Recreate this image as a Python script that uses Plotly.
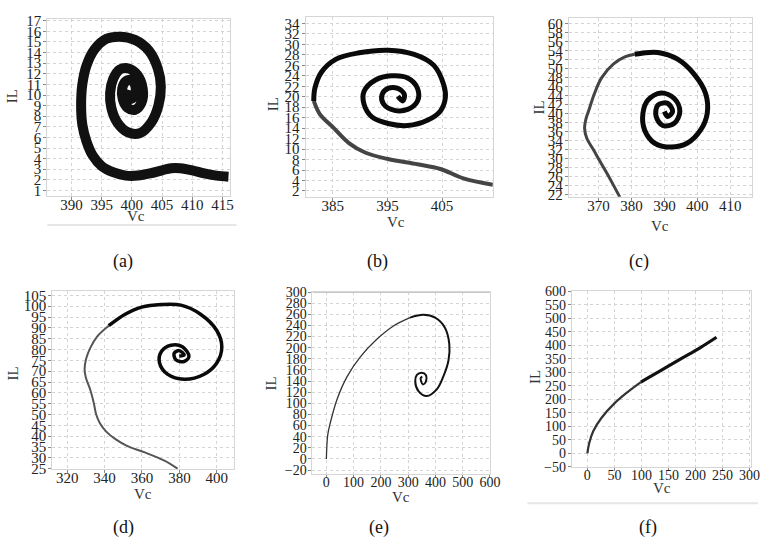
import plotly.graph_objects as go

W, H = 769, 552

# ---------------- data ----------------
# (a)
a_vc = [416.0, 414.0, 412.0, 410.0, 408.0, 406.5, 405.0, 403.0, 401.0, 399.0, 397.0, 395.0,
        393.5, 392.5, 391.8, 391.6, 391.8, 392.5, 393.8, 395.8, 398.0, 400.5, 402.8, 404.3,
        404.8, 404.4, 403.2, 401.3, 399.3, 397.6, 396.6, 396.4, 396.9, 398.0, 399.5, 400.9,
        401.8, 401.6, 400.5, 399.3, 398.5, 398.4, 399.0, 400.0, 400.6, 400.5, 399.8, 399.3, 399.4]
a_il = [2.3, 2.4, 2.6, 2.9, 3.1, 3.1, 2.9, 2.6, 2.4, 2.4, 2.7, 3.3,
        4.3, 5.6, 7.2, 9.0, 11.0, 12.8, 14.3, 15.3, 15.5, 15.2, 14.2, 12.5,
        10.8, 9.0, 7.4, 6.4, 6.5, 7.4, 8.8, 10.2, 11.5, 12.4, 12.5, 11.9,
        10.6, 9.3, 8.6, 8.8, 9.6, 10.6, 11.3, 11.4, 10.8, 10.0, 9.6, 10.0, 10.5]

# (b)
b_tail_vc = [414.3, 408.9, 404.7, 400.5, 395.1, 391.0, 388.0, 385.0, 382.6, 381.5]
b_tail_il = [3.2, 4.4, 6.2, 7.1, 8.1, 9.3, 11.1, 14.2, 16.7, 19.2]
b_vc = [381.5, 381.7, 382.9, 385.6, 389.8, 395.1, 399.9, 403.5, 405.3, 405.6, 404.7, 402.3,
        398.7, 395.1, 392.2, 390.7, 390.7, 392.8, 395.7, 398.7, 400.5, 400.5, 398.7, 396.3,
        394.3, 394.0, 395.1, 396.9, 398.1, 397.8, 396.9]
b_il = [19.2, 21.6, 24.7, 27.2, 28.4, 28.9, 28.1, 26.0, 22.3, 19.8, 17.3, 15.5,
        14.5, 14.9, 16.1, 18.6, 21.0, 23.2, 24.0, 23.6, 21.6, 19.2, 17.6, 17.4,
        18.6, 20.4, 21.6, 21.6, 20.4, 19.2, 20.1]

# (c)
c_tail_vc = [376.5, 374.3, 372.4, 370.2, 368.5, 366.5, 365.8, 366.2, 367.2, 368.8, 371.0, 374.5,
             378.0, 381.0]
c_tail_il = [21.5, 24.5, 27.0, 29.8, 32.0, 34.5, 36.8, 38.8, 41.0, 44.5, 48.0, 51.0,
             52.6, 53.2]
c_vc = [381.0, 388.0, 394.0, 399.0, 402.5, 403.0, 401.0, 397.0, 392.0, 387.0, 384.0, 383.5,
        385.0, 389.0, 393.0, 394.7, 393.0, 389.5, 387.5, 388.0, 391.0, 392.5, 391.0, 390.0]
c_il = [53.2, 53.6, 52.1, 48.8, 44.5, 40.1, 36.4, 33.5, 32.6, 33.5, 36.4, 40.1,
        43.0, 44.6, 43.4, 40.5, 37.9, 37.4, 39.4, 41.9, 42.3, 40.5, 39.4, 40.5]

# (d)
d_tail_vc = [379.0, 372.0, 361.5, 352.0, 346.0, 341.0, 337.5, 335.5, 334.3, 332.5, 330.0,
             329.3, 330.2, 332.5, 336.0, 342.2]
d_tail_il = [25.0, 28.7, 32.5, 35.5, 38.5, 42.0, 46.0, 50.0, 55.0, 61.0, 67.0,
             71.0, 76.0, 81.0, 86.0, 91.0]
d_vc = [342.2, 351.0, 359.8, 370.3, 380.8, 391.3, 400.0, 402.7, 400.0, 393.0, 382.5, 373.8,
        369.4, 370.3, 375.5, 381.6, 385.1, 382.5, 378.1, 377.2, 379.9, 382.5, 379.9]
d_il = [91.0, 96.3, 99.6, 100.8, 100.5, 96.3, 88.8, 81.3, 73.8, 68.5, 66.3, 68.5,
        73.8, 79.0, 82.0, 81.3, 76.8, 74.5, 75.3, 78.3, 79.5, 77.5, 77.0]

# (e)
e_tail_vc = [0, 5, 15, 39, 76, 124, 185, 246, 307]
e_tail_il = [0, 43, 66, 107, 148, 183, 215, 239, 254]
e_vc = [307, 356, 399, 435, 451, 448, 429, 405, 368,
        338, 326, 332, 350, 365, 365, 354, 346, 352]
e_il = [254, 259, 254, 236, 207, 177, 148, 125, 113,
        122, 139, 151, 155, 151, 139, 134, 145, 148]

# (f)
f_tail_vc = [0, 3, 11, 26, 50.5, 75, 99]
f_tail_il = [0, 35, 83, 131, 186, 228, 264]
f_vc = [99, 135.6, 172, 208.5, 239]
f_il = [264, 306, 349, 391, 430]

# tick values
a_xt = [390, 395, 400, 405, 410, 415]
a_yt = list(range(1, 18))
b_xt = [385, 395, 405]
b_yt = list(range(2, 35, 2))
c_xt = [370, 380, 390, 400, 410]
c_yt = list(range(22, 61, 2))
d_xt = [320, 340, 360, 380, 400]
d_yt = list(range(25, 106, 5))
e_xt = [0, 100, 200, 300, 400, 500, 600]
e_yt = list(range(-20, 301, 20))
f_xt = [0, 50, 100, 150, 200, 250, 300]
f_yt = list(range(-50, 601, 50))

captions = ["(a)", "(b)", "(c)", "(d)", "(e)", "(f)"]

# ---------------- layout geometry (pixels) ----------------
panels = [
    dict(px=(48, 233), py=(12, 194), xr=[386, 416.2], yr=[0.5, 17.2], xt=a_xt, yt=a_yt,
         cap=(125, 262), vc=(138, 215), il=(13, 92), fs=15),
    dict(px=(310, 500), py=(10, 195), xr=[380, 414.3], yr=[0.9, 35.3], xt=b_xt, yt=b_yt,
         cap=(383, 262), vc=(402, 221), il=(277, 100), fs=15),
    dict(px=(577, 763), py=(11, 195), xr=[361, 416.6], yr=[21.6, 61.3], xt=c_xt, yt=c_yt,
         cap=(648, 262), vc=(670, 225), il=(547, 103), fs=15),
    dict(px=(53, 237), py=(292, 475), xr=[312, 409], yr=[24.8, 107], xt=d_xt, yt=d_yt,
         cap=(125, 535), vc=(145, 501), il=(13, 377), fs=15),
    dict(px=(317, 497), py=(293, 480), xr=[-51, 600], yr=[-27, 300], xt=e_xt, yt=e_yt,
         cap=(385, 535), vc=(407, 504), il=(275, 387), fs=14),
    dict(px=(580, 762), py=(292, 473), xr=[-29, 303], yr=[-51, 601], xt=f_xt, yt=f_yt,
         cap=(657, 535), vc=(672, 494), il=(542, 380), fs=14),
]

FONT = "Liberation Serif, Times New Roman, serif"
fig = go.Figure()

series = [
    [(a_vc, a_il, "#111111", 10)],
    [(b_tail_vc, b_tail_il, "#444444", 4), (b_vc, b_il, "#0a0a0a", 5)],
    [(c_tail_vc, c_tail_il, "#444444", 3), (c_vc, c_il, "#0a0a0a", 5)],
    [(d_tail_vc, d_tail_il, "#555555", 2), (d_vc, d_il, "#0a0a0a", 3.5)],
    [(e_tail_vc, e_tail_il, "#333333", 1.3), (e_vc, e_il, "#111111", 2)],
    [(f_tail_vc, f_tail_il, "#333333", 2.2), (f_vc, f_il, "#111111", 3.2)],
]

annotations = []
layout_axes = {}
for i, p in enumerate(panels):
    k = "" if i == 0 else str(i + 1)
    for (xs, ys, col, w) in series[i]:
        fig.add_trace(go.Scatter(x=xs, y=ys, mode="lines", xaxis="x" + k, yaxis="y" + k,
                                 line=dict(color=col, width=w, shape="spline", smoothing=1.0),
                                 showlegend=False, hoverinfo="skip"))
    common = dict(showgrid=True, gridcolor="#d4d4d4", griddash="dot", gridwidth=1,
                  showline=True, linecolor="#d6d6d6", linewidth=1, mirror=True,
                  zeroline=False, ticks="outside", ticklen=3, tickcolor="#888888",
                  tickfont=dict(family=FONT, size=p["fs"], color="#222222"))
    layout_axes["xaxis" + k] = dict(common, domain=[p["px"][0] / W, p["px"][1] / W],
                                    range=p["xr"], tickvals=p["xt"], anchor="y" + k,
                                    ticklabelstandoff=-8)
    layout_axes["yaxis" + k] = dict(common, domain=[1 - p["py"][1] / H, 1 - p["py"][0] / H],
                                    range=p["yr"], tickvals=p["yt"], anchor="x" + k,
                                    ticklabelstandoff=-1)
    annotations.append(dict(x=p["cap"][0] / W, y=1 - p["cap"][1] / H, xref="paper", yref="paper",
                            text=captions[i], showarrow=False, xanchor="center", yanchor="middle",
                            font=dict(family=FONT, size=18, color="#111111")))
    annotations.append(dict(x=p["vc"][0] / W, y=1 - p["vc"][1] / H, xref="paper", yref="paper",
                            text="Vc", showarrow=False, xanchor="center", yanchor="middle",
                            font=dict(family=FONT, size=15, color="#333333")))
    annotations.append(dict(x=p["il"][0] / W, y=1 - p["il"][1] / H, xref="paper", yref="paper",
                            text="IL", showarrow=False, xanchor="center", yanchor="middle",
                            textangle=-90, font=dict(family=FONT, size=15, color="#333333")))

shapes = [
    dict(type="line", xref="paper", yref="paper", x0=48 / W, x1=240 / W,
         y0=1 - 224 / H, y1=1 - 224 / H, line=dict(color="#e6e6e6", width=2)),
    dict(type="line", xref="paper", yref="paper", x0=535 / W, x1=1,
         y0=1 - 510 / H, y1=1 - 510 / H, line=dict(color="#e6e6e6", width=2)),
    dict(type="line", xref="x5", yref="y5", x0=-51, x1=600, y0=300, y1=300,
         line=dict(color="#c8c8c8", width=2)),
]

fig.update_layout(width=W, height=H, margin=dict(l=0, r=0, t=0, b=0),
                  paper_bgcolor="white", plot_bgcolor="white",
                  annotations=annotations, shapes=shapes, **layout_axes)

fig.write_html("out.html", config={"displayModeBar": False},
               post_script="document.body.style.margin='0';document.body.style.overflow='hidden';")
